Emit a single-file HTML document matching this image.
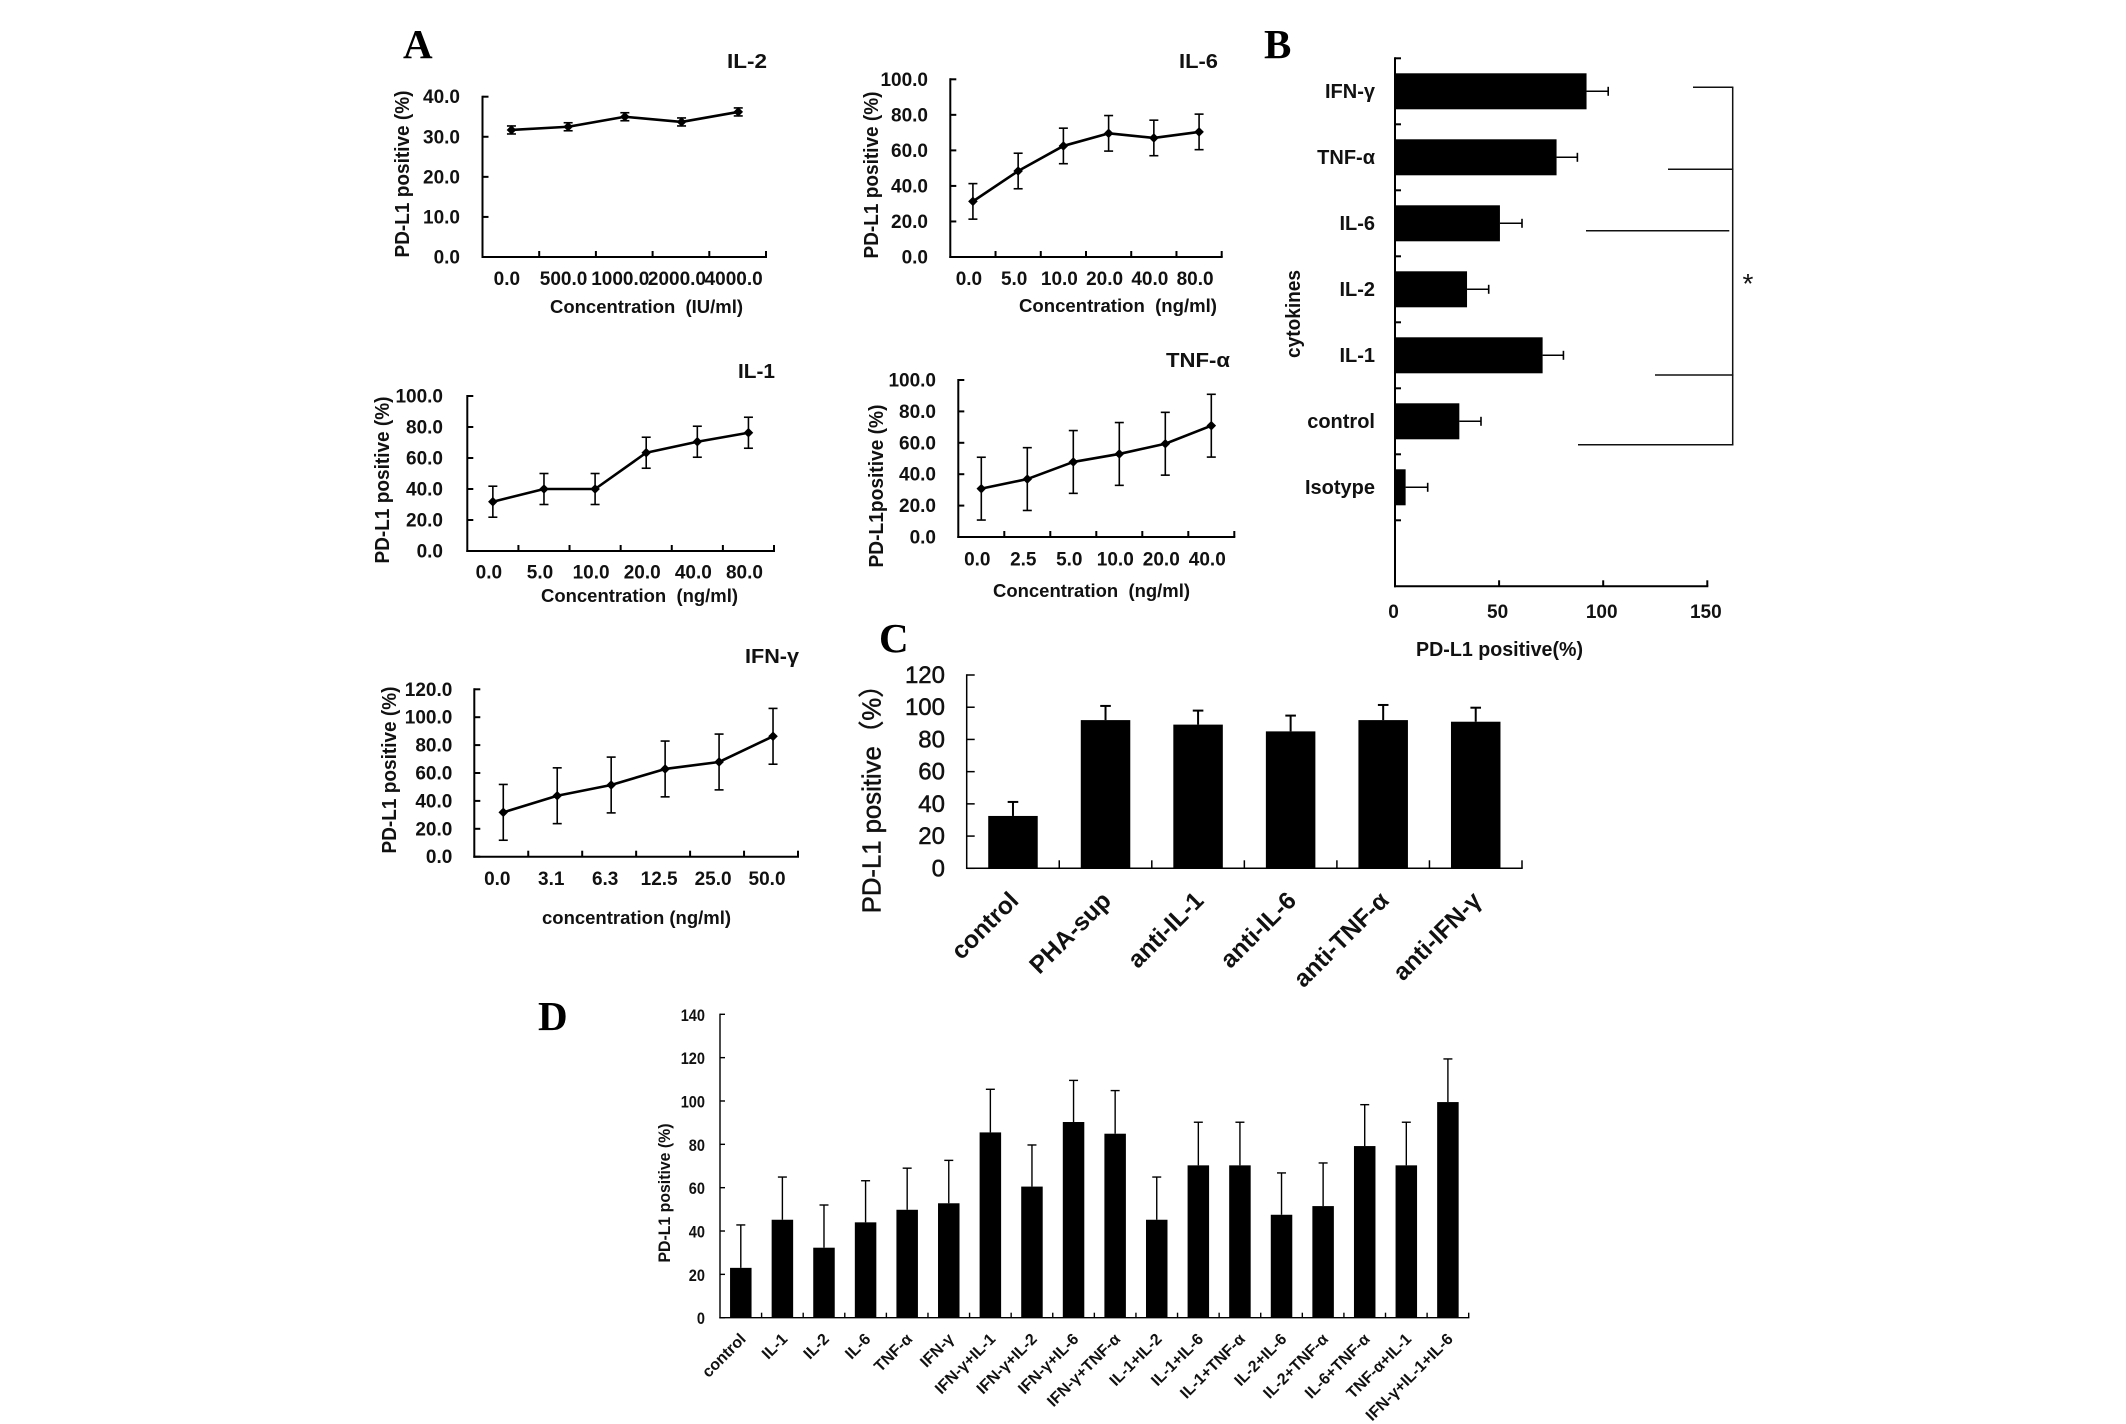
<!DOCTYPE html>
<html lang="en">
<head>
<meta charset="utf-8">
<title>PD-L1 positive cytokine panels</title>
<style>
html,body{margin:0;padding:0;background:#fff;}
svg{display:block;}
text{font-family:"Liberation Sans","Noto Sans CJK SC",sans-serif;font-weight:bold;fill:#111;}
.letter{font-family:"Liberation Serif","Noto Serif CJK SC",serif;font-size:41px;fill:#000;}
.title{font-size:20px;}
.ytitle{font-size:20px;}
.xtitle{font-size:18px;}
.tick{font-size:19px;}
.cat-b{font-size:20px;}
.tick-c{font-size:24px;font-weight:normal;stroke:#111;stroke-width:.5px;}
.cat-c{font-size:24.5px;}
.tick-d{font-size:17px;}
.cat-d{font-size:16px;}
.ytitle-c{font-size:25.7px;font-weight:normal;stroke:#111;stroke-width:.5px;}
.ytitle-d{font-size:17px;}
</style>
</head>
<body>
<svg xmlns="http://www.w3.org/2000/svg" width="2126" height="1424" viewBox="0 0 2126 1424">
  <rect x="0" y="0" width="2126" height="1424" fill="#fff"/>

  <text class="letter" x="403" y="58">A</text>
  <text class="letter" x="1264" y="58">B</text>
  <text class="letter" x="879" y="652">C</text>
  <text class="letter" x="538" y="1030">D</text>

  <g id="chart-il2">
    <text class="title" x="727" y="68" textLength="40" lengthAdjust="spacingAndGlyphs">IL-2</text>
    <text class="ytitle" transform="translate(409,174) rotate(-90)" text-anchor="middle" textLength="167" lengthAdjust="spacingAndGlyphs">PD-L1 positive (%)</text>
    <text class="xtitle" x="550" y="313" textLength="193" lengthAdjust="spacingAndGlyphs">Concentration &#160;(IU/ml)</text>
  </g>
  <g id="chart-il6">
    <text class="title" x="1179" y="68" textLength="39" lengthAdjust="spacingAndGlyphs">IL-6</text>
    <text class="ytitle" transform="translate(878,175) rotate(-90)" text-anchor="middle" textLength="167" lengthAdjust="spacingAndGlyphs">PD-L1 positive (%)</text>
    <text class="xtitle" x="1019" y="312" textLength="198" lengthAdjust="spacingAndGlyphs">Concentration &#160;(ng/ml)</text>
  </g>
  <g id="chart-il1">
    <text class="title" x="738" y="378" textLength="37" lengthAdjust="spacingAndGlyphs">IL-1</text>
    <text class="ytitle" transform="translate(389,480) rotate(-90)" text-anchor="middle" textLength="167" lengthAdjust="spacingAndGlyphs">PD-L1 positive (%)</text>
    <text class="xtitle" x="541" y="602" textLength="197" lengthAdjust="spacingAndGlyphs">Concentration &#160;(ng/ml)</text>
  </g>
  <g id="chart-tnf">
    <text class="title" x="1166" y="367" textLength="64" lengthAdjust="spacingAndGlyphs">TNF-α</text>
    <text class="ytitle" transform="translate(883,486) rotate(-90)" text-anchor="middle" textLength="163" lengthAdjust="spacingAndGlyphs">PD-L1positive (%)</text>
    <text class="xtitle" x="993" y="597" textLength="197" lengthAdjust="spacingAndGlyphs">Concentration &#160;(ng/ml)</text>
  </g>
  <g id="chart-ifn">
    <text class="title" x="745" y="663" textLength="54" lengthAdjust="spacingAndGlyphs">IFN-γ</text>
    <text class="ytitle" transform="translate(396,770) rotate(-90)" text-anchor="middle" textLength="167" lengthAdjust="spacingAndGlyphs">PD-L1 positive (%)</text>
    <text class="xtitle" x="542" y="924" textLength="189" lengthAdjust="spacingAndGlyphs">concentration (ng/ml)</text>
  </g>

  <g id="chart-b">
    <text class="ytitle" transform="translate(1300,314) rotate(-90)" text-anchor="middle" textLength="88" lengthAdjust="spacingAndGlyphs">cytokines</text>
    <text class="ytitle" x="1416" y="656" textLength="167" lengthAdjust="spacingAndGlyphs">PD-L1 positive(%)</text>
    <g stroke="#111" stroke-width="1.5">
      <line x1="1732.7" y1="87" x2="1732.7" y2="445.5"/>
      <line x1="1693" y1="87.3" x2="1733.4" y2="87.3"/>
      <line x1="1668" y1="169.3" x2="1733.4" y2="169.3"/>
      <line x1="1586" y1="230.7" x2="1729.3" y2="230.7"/>
      <line x1="1655" y1="375" x2="1733.4" y2="375"/>
      <line x1="1578" y1="444.7" x2="1733.4" y2="444.7"/>
    </g>
    <text x="1756" y="293" text-anchor="middle" transform="translate(-8,0)" style="font-size:28px;font-weight:normal">*</text>
  </g>

  <g id="chart-c">
    <text class="ytitle-c" transform="translate(880.7,913.3) rotate(-90)">PD-L1 positive（%）</text>
  </g>

  <g id="chart-d">
    <text class="ytitle-d" transform="translate(670,1193) rotate(-90)" text-anchor="middle" textLength="139" lengthAdjust="spacingAndGlyphs">PD-L1 positive (%)</text>
  </g>
</svg>

<script>
// ---------- Panel A data ----------
const il2Categories = ['0.0', '500.0', '1000.0', '2000.0', '4000.0'];
const il2Values = [31.7, 32.5, 35, 33.7, 36.2];
const il2Errors = [1, 1, 1, 1, 1];
const il2YTicks = ['0.0', '10.0', '20.0', '30.0', '40.0'];

const il6Categories = ['0.0', '5.0', '10.0', '20.0', '40.0', '80.0'];
const il6Values = [31.3, 48.4, 62.5, 69.6, 67, 70.4];
const il6Errors = [10, 10, 10, 10, 10, 10];
const il6YTicks = ['0.0', '20.0', '40.0', '60.0', '80.0', '100.0'];

const il1Categories = ['0.0', '5.0', '10.0', '20.0', '40.0', '80.0'];
const il1Values = [31.8, 40, 40, 63.4, 70.5, 76.3];
const il1Errors = [10, 10, 10, 10, 10, 10];
const il1YTicks = ['0.0', '20.0', '40.0', '60.0', '80.0', '100.0'];

const tnfCategories = ['0.0', '2.5', '5.0', '10.0', '20.0', '40.0'];
const tnfValues = [30.8, 36.9, 47.8, 52.9, 59.4, 70.9];
const tnfErrors = [20, 20, 20, 20, 20, 20];
const tnfYTicks = ['0.0', '20.0', '40.0', '60.0', '80.0', '100.0'];

const ifnCategories = ['0.0', '3.1', '6.3', '12.5', '25.0', '50.0'];
const ifnValues = [31.8, 43.7, 51.4, 62.9, 67.9, 86.3];
const ifnErrors = [20, 20, 20, 20, 20, 20];
const ifnYTicks = ['0.0', '20.0', '40.0', '60.0', '80.0', '100.0', '120.0'];

// ---------- Panel B data ----------
const bCategories = ['IFN-γ', 'TNF-α', 'IL-6', 'IL-2', 'IL-1', 'control', 'Isotype'];
const bValues = [92, 77.6, 50.4, 34.6, 70.9, 30.9, 5.1];
const bErrors = [10.4, 10, 10.6, 10.4, 10, 10.4, 10.6];
const bXTicks = ['0', '50', '100', '150'];

// ---------- Panel C data ----------
const cCategories = ['control', 'PHA-sup', 'anti-IL-1', 'anti-IL-6', 'anti-TNF-α', 'anti-IFN-γ'];
const cValues = [32.5, 92, 89.2, 85, 92, 91];
const cErrors = [8.7, 8.8, 8.7, 9.8, 9.4, 8.7];
const cYTicks = ['0', '20', '40', '60', '80', '100', '120'];

// ---------- Panel D data ----------
const dCategories = ['control', 'IL-1', 'IL-2', 'IL-6', 'TNF-α', 'IFN-γ', 'IFN-γ+IL-1', 'IFN-γ+IL-2', 'IFN-γ+IL-6', 'IFN-γ+TNF-α', 'IL-1+IL-2', 'IL-1+IL-6', 'IL-1+TNF-α', 'IL-2+IL-6', 'IL-2+TNF-α', 'IL-6+TNF-α', 'TNF-α+IL-1', 'IFN-γ+IL-1+IL-6'];
const dValues = [23, 45.2, 32.3, 44, 49.8, 52.8, 85.5, 60.5, 90.3, 84.9, 45.2, 70.3, 70.3, 47.5, 51.5, 79.2, 70.3, 99.5];
const dErrors = [19.8, 19.7, 19.7, 19.2, 19.2, 19.8, 19.9, 19.2, 19.2, 19.9, 19.7, 19.9, 19.9, 19.3, 19.9, 19.1, 19.9, 19.9];
const dYTicks = ['0', '20', '40', '60', '80', '100', '120', '140'];

const SVG_NS = 'http://www.w3.org/2000/svg';
const INK = '#000';

function make(tag, parent, props) {
  const node = document.createElementNS(SVG_NS, tag);
  Object.keys(props).forEach(function (k) { node.setAttribute(k, props[k]); });
  parent.appendChild(node);
  return node;
}

function makeLinearScale(d0, d1, r0, r1) {
  return function (v) { return r0 + (v - d0) / (d1 - d0) * (r1 - r0); };
}

function drawLineChart(cfg) {
  const g = document.getElementById(cfg.id);
  const y = makeLinearScale(0, cfg.yMax, cfg.y0, cfg.yTop);
  const step = (cfg.xRight - cfg.x0) / cfg.categories.length;
  const x = function (i) { return cfg.x0 + (i + 0.5) * step + (cfg.pointDx || 0); };

  const yAxis = make('line', g, { x1: cfg.x0, y1: cfg.yTop - 1, x2: cfg.x0, y2: cfg.y0 + 1, stroke: INK, 'stroke-width': 2 });
  
  
  const xAxis = make('line', g, { x1: cfg.x0 - 1, y1: cfg.y0, x2: cfg.xRight + 1, y2: cfg.y0, stroke: INK, 'stroke-width': 2 });
  
  

  cfg.yTicks.forEach(function (label) {
    const v = parseFloat(label);
    const tick = make('line', g, { x1: cfg.x0, y1: y(v), x2: cfg.x0 + 6, y2: y(v), stroke: INK, 'stroke-width': 2 });
    
    
    const text = make('text', g, { x: cfg.yLabelRight, y: y(v) + 6.5, 'text-anchor': 'end', class: 'tick' });
    text.textContent = label;
    
    
  });

  cfg.categories.forEach(function (label, i) {
    const bx = cfg.x0 + (i + 1) * step;
    const tick = make('line', g, { x1: bx, y1: cfg.y0, x2: bx, y2: cfg.y0 - 6, stroke: INK, 'stroke-width': 2 });
    
    
    const text = make('text', g, { x: cfg.x0 + (i + 0.5) * step - 4, y: cfg.xLabelBase, 'text-anchor': 'middle', class: 'tick' });
    text.textContent = label;
    
    
  });

  cfg.values.forEach(function (v, i) {
    const e = cfg.errors[i];
    const px = x(i);
    const stem = make('line', g, { x1: px, y1: y(v + e), x2: px, y2: y(v - e), stroke: INK, 'stroke-width': 1.6 });
    
    
    const capTop = make('line', g, { x1: px - 4.5, y1: y(v + e), x2: px + 4.5, y2: y(v + e), stroke: INK, 'stroke-width': 1.6 });
    
    
    const capBottom = make('line', g, { x1: px - 4.5, y1: y(v - e), x2: px + 4.5, y2: y(v - e), stroke: INK, 'stroke-width': 1.6 });
    
    
  });

  const linePoints = cfg.values.map(function (v, i) { return x(i) + ',' + y(v); }).join(' ');
  const line = make('polyline', g, { points: linePoints, fill: 'none', stroke: INK, 'stroke-width': 2.6, 'stroke-linejoin': 'round' });
  
  

  cfg.values.forEach(function (v, i) {
    const px = x(i), py = y(v), r = 4.8;
    const marker = make('polygon', g, { points: px + ',' + (py - r) + ' ' + (px + r) + ',' + py + ' ' + px + ',' + (py + r) + ' ' + (px - r) + ',' + py, fill: INK });
    
    
  });
}

function drawHorizontalBars(cfg) {
  const g = document.getElementById(cfg.id);
  const x = makeLinearScale(0, cfg.xMax, cfg.x0, cfg.xRight);
  const center = function (i) { return cfg.yTop + (i + 0.5) * cfg.step; };
  const yBottom = cfg.yTop + cfg.slots * cfg.step;

  cfg.values.forEach(function (v, i) {
    const bar = make('rect', g, { x: x(0), y: center(i) - cfg.barHeight / 2, width: x(v) - x(0), height: cfg.barHeight, fill: INK });
    
    
    const xEnd = x(v + cfg.errors[i]);
    const stem = make('line', g, { x1: x(v), y1: center(i), x2: xEnd, y2: center(i), stroke: INK, 'stroke-width': 1.5 });
    
    
    const cap = make('line', g, { x1: xEnd, y1: center(i) - 4.5, x2: xEnd, y2: center(i) + 4.5, stroke: INK, 'stroke-width': 1.6 });
    
    
    const label = make('text', g, { x: cfg.labelRight, y: center(i) + 6.5, 'text-anchor': 'end', class: 'cat-b' });
    label.textContent = cfg.categories[i];
    
    
  });

  for (let i = 0; i < cfg.slots; i++) {
    const ty = cfg.yTop + i * cfg.step;
    const tick = make('line', g, { x1: cfg.x0, y1: ty, x2: cfg.x0 + 6, y2: ty, stroke: INK, 'stroke-width': 2 });
    
    
  }

  const yAxis = make('line', g, { x1: cfg.x0, y1: cfg.yTop - 1, x2: cfg.x0, y2: yBottom + 1, stroke: INK, 'stroke-width': 2 });
  
  
  const xAxis = make('line', g, { x1: cfg.x0 - 1, y1: yBottom, x2: cfg.xRight + 1, y2: yBottom, stroke: INK, 'stroke-width': 2 });
  
  

  cfg.xTicks.forEach(function (label) {
    const v = parseFloat(label);
    if (v > 0) {
      const tick = make('line', g, { x1: x(v), y1: yBottom, x2: x(v), y2: yBottom - 6, stroke: INK, 'stroke-width': 2 });
      
      
    }
    const text = make('text', g, { x: x(v) - 1.5, y: cfg.xLabelBase, 'text-anchor': 'middle', class: 'tick' });
    text.textContent = label;
    
    
  });
}

function drawVerticalBars(cfg) {
  const g = document.getElementById(cfg.id);
  const y = makeLinearScale(0, cfg.yMax, cfg.y0, cfg.yTop);
  const step = (cfg.xRight - cfg.x0) / cfg.categories.length;
  const center = function (i) { return cfg.x0 + (i + 0.5) * step - cfg.barShift; };

  cfg.values.forEach(function (v, i) {
    const c = center(i);
    const bar = make('rect', g, { x: c - cfg.barWidth / 2, y: y(v), width: cfg.barWidth, height: cfg.y0 - y(v), fill: INK });
    
    
    const top = y(v + cfg.errors[i]);
    const stem = make('line', g, { x1: c, y1: y(v), x2: c, y2: top, stroke: INK, 'stroke-width': cfg.errWidth });
    
    
    const cap = make('line', g, { x1: c - cfg.capHalf, y1: top, x2: c + cfg.capHalf, y2: top, stroke: INK, 'stroke-width': cfg.errWidth });
    
    
    const tx = cfg.x0 + (i + 0.5) * step + cfg.catDx;
    const label = make('text', g, { x: 0, y: 0, 'text-anchor': 'end', class: cfg.catClass, transform: 'translate(' + tx + ',' + cfg.catY + ') rotate(' + cfg.catAngle + ')' });
    label.textContent = cfg.categories[i];
    
    
    const bx = cfg.x0 + (i + 1) * step;
    const tick = make('line', g, { x1: bx, y1: cfg.y0, x2: bx, y2: cfg.y0 - cfg.tickLen, stroke: INK, 'stroke-width': cfg.axisWidth });
    
    
  });

  cfg.yTicks.forEach(function (t) {
    const v = parseFloat(t);
    const tick = make('line', g, { x1: cfg.x0, y1: y(v), x2: cfg.x0 + cfg.tickLen, y2: y(v), stroke: INK, 'stroke-width': cfg.axisWidth });
    
    
    const text = make('text', g, { x: cfg.yLabelRight, y: y(v) + cfg.yLabelDy, 'text-anchor': 'end', class: cfg.tickClass, textLength: t.length * cfg.charWidth, lengthAdjust: 'spacingAndGlyphs' });
    text.textContent = t;
    
    
  });

  const yAxis = make('line', g, { x1: cfg.x0, y1: cfg.yTop - 0.7, x2: cfg.x0, y2: cfg.y0 + 0.7, stroke: INK, 'stroke-width': cfg.axisWidth });
  
  
  const xAxis = make('line', g, { x1: cfg.x0 - 0.7, y1: cfg.y0, x2: cfg.xRight + 0.7, y2: cfg.y0, stroke: INK, 'stroke-width': cfg.axisWidth });
  
  
}

drawLineChart({ id: 'chart-il2', categories: il2Categories, values: il2Values, errors: il2Errors, yTicks: il2YTicks, yMax: 40, x0: 482.5, xRight: 766, yTop: 96.7, y0: 257, yLabelRight: 460, xLabelBase: 285, pointDx: 0.6 });
drawLineChart({ id: 'chart-il6', categories: il6Categories, values: il6Values, errors: il6Errors, yTicks: il6YTicks, yMax: 100, x0: 950.3, xRight: 1221.7, yTop: 79.3, y0: 257, yLabelRight: 928, xLabelBase: 285, pointDx: 0 });
drawLineChart({ id: 'chart-il1', categories: il1Categories, values: il1Values, errors: il1Errors, yTicks: il1YTicks, yMax: 100, x0: 467.3, xRight: 774, yTop: 396, y0: 551, yLabelRight: 443, xLabelBase: 578.7, pointDx: 0 });
drawLineChart({ id: 'chart-tnf', categories: tnfCategories, values: tnfValues, errors: tnfErrors, yTicks: tnfYTicks, yMax: 100, x0: 958.3, xRight: 1234.3, yTop: 380, y0: 537, yLabelRight: 936, xLabelBase: 565.7, pointDx: 0 });
drawLineChart({ id: 'chart-ifn', categories: ifnCategories, values: ifnValues, errors: ifnErrors, yTicks: ifnYTicks, yMax: 120, x0: 474.3, xRight: 798, yTop: 689.3, y0: 856.7, yLabelRight: 452.3, xLabelBase: 885, pointDx: 2 });

drawHorizontalBars({ id: 'chart-b', categories: bCategories, values: bValues, errors: bErrors, xTicks: bXTicks, xMax: 150, x0: 1395, xRight: 1707.3, yTop: 58.3, step: 66, slots: 8, barHeight: 36, labelRight: 1375, xLabelBase: 618 });

drawVerticalBars({ id: 'chart-c', categories: cCategories, values: cValues, errors: cErrors, yTicks: cYTicks, yMax: 120, x0: 966.7, xRight: 1522, yTop: 675, y0: 868.3, barWidth: 49.5, barShift: 0, capHalf: 5.3, errWidth: 2, axisWidth: 1.5, tickLen: 8, yLabelRight: 945, yLabelDy: 8, charWidth: 13.35, tickClass: 'tick-c', catClass: 'cat-c', catDx: 7, catY: 902, catAngle: -45 });

drawVerticalBars({ id: 'chart-d', categories: dCategories, values: dValues, errors: dErrors, yTicks: dYTicks, yMax: 140, x0: 720, xRight: 1468.7, yTop: 1014.3, y0: 1317.7, barWidth: 21.5, barShift: 0, capHalf: 4.5, errWidth: 1.4, axisWidth: 1.4, tickLen: 5, yLabelRight: 705, yLabelDy: 6.5, charWidth: 8.1, tickClass: 'tick-d', catClass: 'cat-d', catDx: 6, catY: 1340, catAngle: -45 });
</script>
</body>
</html>
